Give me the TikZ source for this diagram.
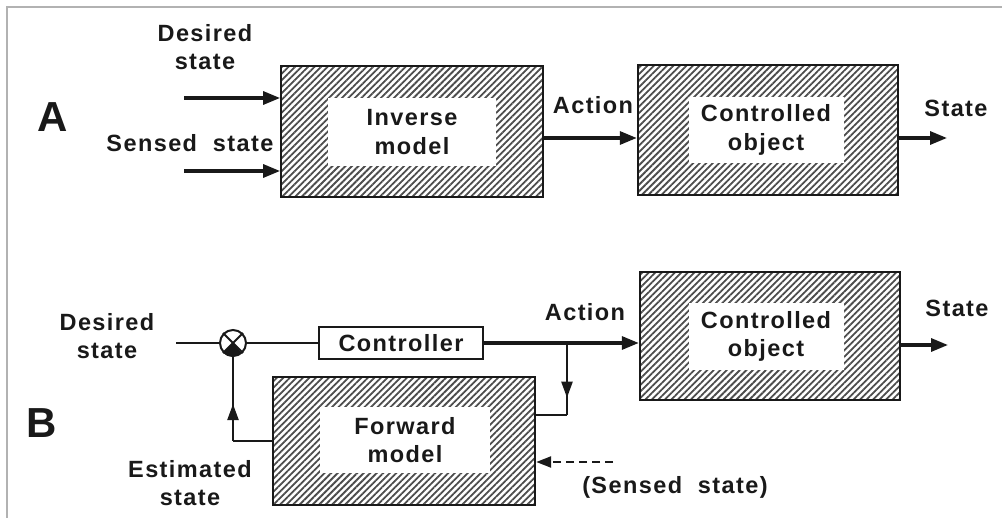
\documentclass[tikz,border=0pt]{standalone}
\usepackage{fontspec}
\setmainfont{Liberation Sans}[LetterSpace=6]
\usetikzlibrary{arrows.meta,patterns.meta,decorations.markings,calc}

\tikzset{
  lbl/.style={font=\bfseries\fontsize{23.5}{28.5}\selectfont, align=center, inner sep=0pt, text=black!90},
  bigletter/.style={font=\bfseries\fontsize{42}{42}\selectfont, inner sep=0pt, text=black!90},
  hatchbox/.style={draw=black!90, line width=2.4pt,
    pattern={Lines[angle=45, distance=4.6pt, line width=1.8pt]}, pattern color=black!70,
    inner sep=0pt},
  whitebox/.style={fill=white, inner sep=0pt, lbl},
  ctrlbox/.style={draw=black!90, line width=2pt, fill=white, inner sep=0pt, lbl},
  mainarr/.style={line width=3.2pt, draw=black!90, -{Triangle[length=17pt,width=13pt]}},
  thinline/.style={line width=2.2pt, draw=black!90},
  midtip/.style={postaction={decorate}, decoration={markings,
    mark=at position #1 with {\arrow{Triangle[length=16pt,width=11pt]}}}},
  frameline/.style={line width=2pt, draw=black!30}
}

\begin{document}
\begin{tikzpicture}[x=1pt, y=-1pt]
  \useasboundingbox (0,0) rectangle (1002,518);
  % frame
  \draw[frameline] (7,518) -- (7,7) -- (1002,7);

  % ---------- A: inverse model controlling the object directly ----------
  \node[bigletter] (labA) at (53,117) {A};
  \node[hatchbox, minimum width=262pt, minimum height=131pt] (inv) at (412,131.5) {};
  \node[whitebox, minimum width=168pt, minimum height=68pt] (invin) at (412,132) {Inverse\\model};
  \node[hatchbox, minimum width=260pt, minimum height=130pt] (coA) at (768,130) {};
  \node[whitebox, minimum width=155pt, minimum height=66pt] (coAin) at (766,130) {Controlled\\object};

  \coordinate (dsA) at (184,98);
  \coordinate (ssA) at (184,171);
  \coordinate (outA) at (947,138);
  \draw[mainarr] (dsA) -- (dsA -| inv.west);
  \draw[mainarr] (ssA) -- (ssA -| inv.west);
  \draw[mainarr] ([yshift=-6.5pt]inv.east) -- ([yshift=-6.5pt]inv.east -| coA.west);
  \draw[mainarr] (outA -| coA.east) -- (outA);

  \node[lbl] (tDesA) at (205,47) {Desired\\state};
  \node[lbl] (tSenA) at (190,143) {Sensed~~state};
  \node[lbl] (tActA) at (593,105) {Action};
  \node[lbl] (tStA) at (956,108) {State};

  % ---------- B: controller with forward model in the loop ----------
  \node[bigletter] (labB) at (42,423) {B};
  \node[circle, draw=black!90, line width=2pt, minimum size=26pt, inner sep=0pt] (sum) at (233,343) {};
  \fill[black!90] (sum.center) -- (sum.-135) arc[start angle=-135, end angle=-45, radius=13pt] -- cycle;
  \draw[black!90, line width=2pt] (sum.45) -- (sum.-135) (sum.135) -- (sum.-45);

  \node[ctrlbox, minimum width=164pt, minimum height=32pt] (ctrl) at (401,343) {Controller};
  \node[hatchbox, minimum width=260pt, minimum height=128pt] (coB) at (770,336) {};
  \node[whitebox, minimum width=155pt, minimum height=67pt] (coBin) at (766,336.5) {Controlled\\object};
  \node[hatchbox, minimum width=262pt, minimum height=128pt] (fwd) at (404,441) {};
  \node[whitebox, minimum width=170pt, minimum height=66pt] (fwdin) at (405,440) {Forward\\model};

  \coordinate (dsB) at (176,343);
  \coordinate (br) at (567,343);
  \coordinate (brlow) at (567,415);
  \coordinate (fbcorner) at (233,441);
  \coordinate (ssB) at (613,462);
  \coordinate (outB) at (948,345);

  \draw[thinline] (dsB) -- (sum.west);
  \draw[thinline] (sum.east) -- (ctrl.west);
  \draw[mainarr] (ctrl.east) -- (ctrl.east -| coB.west);
  \draw[mainarr] (outB -| coB.east) -- (outB);
  \draw[thinline, midtip=0.76] (br) -- (brlow);
  \draw[thinline] (brlow) -- (brlow -| fwd.east);
  \draw[thinline] (fbcorner -| fwd.west) -- (fbcorner);
  \draw[thinline, midtip=0.44] (fbcorner) -- (sum.south);
  \draw[line width=2.4pt, draw=black!90, dash pattern=on 8pt off 5pt,
        -{Triangle[length=15pt,width=11pt]}] (ssB) -- (ssB -| fwd.east);

  \node[lbl] (tDesB) at (107,336) {Desired\\state};
  \node[lbl] (tActB) at (585,312) {Action};
  \node[lbl] (tStB) at (957,308) {State};
  \node[lbl] (tEst) at (190,483) {Estimated\\state};
  \node[lbl] (tSenB) at (675,487) {(Sensed~~state)};
\end{tikzpicture}
\end{document}
